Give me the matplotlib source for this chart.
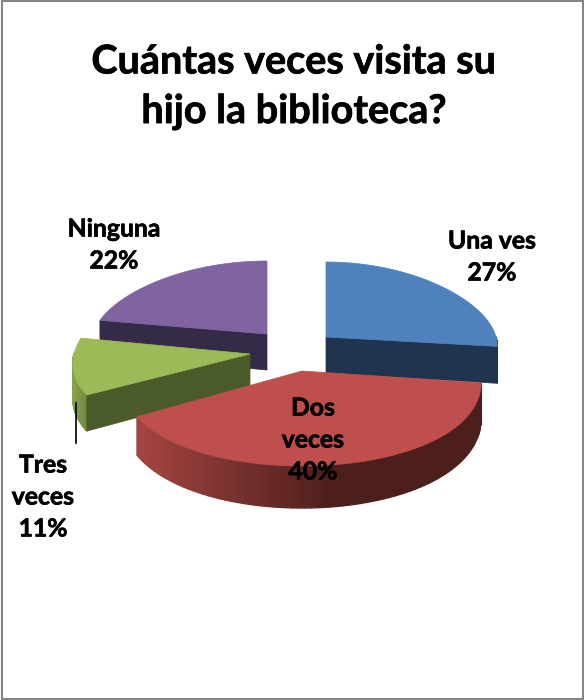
import matplotlib
matplotlib.use('Agg')
import matplotlib.pyplot as plt
import matplotlib.patheffects as pe
import numpy as np
from matplotlib.patches import Polygon, Rectangle

plt.rcParams['font.family'] = ['Lato', 'DejaVu Sans']

title = 'Cuántas veces visita su\nhijo la biblioteca?'
labels = ['Una ves', 'Dos\nveces', 'Tres\nveces', 'Ninguna']
values = [27, 40, 11, 22]

top_colors = ['#4F81BD', '#BE4F4C', '#9BBB59', '#8064A2']
cut_colors = ['#1F344F', '#8C3A38', '#4B5A29', '#352A47']
side_from = ['#1F344F', '#A54542', '#86A24B', '#352A47']
side_to = ['#1F344F', '#4C1E1C', '#5F7537', '#352A47']
side_span = [50, 200, 25, 50]

# pixel layout of each exploded slice
apex_x = [326, 302, 250, 267]
apex_y = [337, 371, 354, 334]
rad_x = [170, 178, 176, 174]
rad_y = [75, 95, 85, 73]
depth = [36, 35, 33, 36]
persp = 0.12
label_x = [492, 313, 43, 114]
label_y = [257, 440, 497, 245]
draw_order = [3, 2, 0, 1]

fig = plt.figure(figsize=(5.84, 7.0), dpi=100)
ax = fig.add_axes([0, 0, 1, 1])
ax.set_xlim(0, 584)
ax.set_ylim(700, 0)
ax.axis('off')

ax.add_patch(Rectangle((2, 1), 581, 698, fc='white', ec='#868686', lw=1.5))


def rim(i, a, b, n=80):
    t = np.radians(np.linspace(a, b, n))
    # things nearer the viewer come out wider
    xs = apex_x[i] + rad_x[i] * np.sin(t) * (1 - persp * np.cos(t))
    return t, xs, apex_y[i] - rad_y[i] * np.cos(t)


def mix(c1, c2, f):
    c1 = np.array(matplotlib.colors.to_rgb(c1))
    c2 = np.array(matplotlib.colors.to_rgb(c2))
    return tuple(c1 + (c2 - c1) * f)


starts = np.cumsum([0] + values[:-1]) * 3.6
ends = np.cumsum(values) * 3.6

for i in draw_order:
    a, b = starts[i], ends[i]
    t, x, y = rim(i, a, b)
    d = depth[i] * (1 - 0.2 * np.cos(t))

    # outer wall, only the front part of the rim
    front = np.where(np.cos(t) < 0.02)[0]
    if len(front) > 1:
        left = x[front].min()
        for k in front[:-1]:
            if np.cos(t[k + 1]) >= 0.02:
                continue
            f = min(1, (x[k] - left) / side_span[i])
            col = mix(side_from[i], side_to[i], f)
            quad = [(x[k], y[k]), (x[k + 1], y[k + 1]), (x[k + 1], y[k + 1] + d[k + 1]), (x[k], y[k] + d[k])]
            ax.add_patch(Polygon(quad, fc=col, ec=col, lw=1.0))

    # cut face that turns to the viewer
    if a > 180 or b < 180:
        if b < 180:
            ex, ey, ed = x[-1], y[-1], d[-1]
        else:
            ex, ey, ed = x[0], y[0], d[0]
        quad = [(apex_x[i], apex_y[i]), (ex, ey), (ex, ey + ed), (apex_x[i], apex_y[i] + depth[i])]
        ax.add_patch(Polygon(quad, fc=cut_colors[i], ec=cut_colors[i], lw=0.5))

    top = [(apex_x[i], apex_y[i])] + list(zip(x, y))
    ax.add_patch(Polygon(top, fc=top_colors[i], ec=top_colors[i], lw=0.5))

# leader line of the small slice
ax.plot([76, 76], [403, 443], color='black', lw=1.2)

heavier = [pe.withStroke(linewidth=0.5, foreground='black')]

ax.text(294, 87, title, ha='center', va='center', fontsize=28.5, fontweight='bold',
        linespacing=1.42, path_effects=heavier)

for i in range(4):
    ax.text(label_x[i], label_y[i], labels[i] + '\n' + str(values[i]) + '%', ha='center', va='center',
            fontsize=17.8, fontweight='bold', linespacing=1.47, path_effects=heavier)

fig.savefig('out.png', dpi=100)
